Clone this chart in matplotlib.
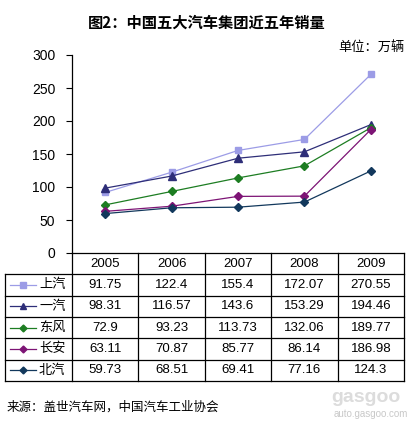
import matplotlib
matplotlib.use("Agg")
import matplotlib.pyplot as plt
from matplotlib import transforms
from matplotlib.lines import Line2D

plt.rcParams['font.family'] = ['Liberation Sans', 'Noto Sans CJK SC', 'DejaVu Sans']

# data (unit: 10k vehicles)
years = ["2005", "2006", "2007", "2008", "2009"]
groups = ["上汽", "一汽", "东风", "长安", "北汽"]
saic = [91.75, 122.4, 155.4, 172.07, 270.55]
faw = [98.31, 116.57, 143.6, 153.29, 194.46]
dongfeng = [72.9, 93.23, 113.73, 132.06, 189.77]
changan = [63.11, 70.87, 85.77, 86.14, 186.98]
baic = [59.73, 68.51, 69.41, 77.16, 124.3]
series = [saic, faw, dongfeng, changan, baic]

colors = ["#9c9ce6", "#2e2e78", "#1d7d22", "#7d1475", "#12385c"]
markers = ["s", "^", "D", "D", "D"]
msizes = [5, 6, 4, 4, 4]

W, H = 415, 422
fig = plt.figure(figsize=(W / 100, H / 100), dpi=100)

# plot area in pixels: x 72..404, y 55(300)..253(0)
left, right, top, bottom = 72, 404, 55, 253
ax = fig.add_axes([left / W, 1 - bottom / H, (right - left) / W, (bottom - top) / H])

xs = list(range(len(years)))
for vals, c, m, ms in zip(series, colors, markers, msizes):
    ax.plot(xs, vals, color=c, marker=m, markersize=ms, linewidth=0.9, clip_on=False)

ax.set_xlim(-0.5, len(years) - 0.5)
ax.set_ylim(0, 300)
ax.set_yticks([0, 50, 100, 150, 200, 250, 300])
ax.set_xticks([])
ax.tick_params(axis='y', direction='out', length=4, width=0.8, labelsize=10, pad=8)
for s in ["top", "right"]:
    ax.spines[s].set_visible(False)
ax.spines["left"].set_linewidth(0.9)
ax.spines["bottom"].set_linewidth(0.9)

# ---- data table under the plot ----
ax_h = bottom - top
ax_w = right - left
row_h = 21.3 / ax_h
n_rows = len(groups) + 1
tab_left = (5 - left) / ax_w
lw = 0.9
blend = transforms.blended_transform_factory(ax.transData, ax.transAxes)

def hline(x0, x1, y):
    ax.add_line(Line2D([x0, x1], [y, y], transform=ax.transAxes, color="black", lw=lw, clip_on=False))

def vline(x, y0, y1, tr=ax.transAxes):
    ax.add_line(Line2D([x, x], [y0, y1], transform=tr, color="black", lw=lw, clip_on=False))

# horizontal lines
for r in range(1, n_rows + 1):
    hline(tab_left, 1, -r * row_h)
# vertical lines
vline(tab_left, -row_h, -n_rows * row_h)
vline(0, 0, -n_rows * row_h)
for b in range(len(years)):
    vline(b + 0.5, 0, -n_rows * row_h, blend)

# header row
for i, y in enumerate(years):
    ax.text(i, -0.5 * row_h, y, transform=blend, ha="center", va="center", fontsize=9.5)

# body rows
for r, (name, vals, c, m) in enumerate(zip(groups, series, colors, markers)):
    yc = -(r + 1.5) * row_h
    x0 = (10 - left) / ax_w
    x1 = (36 - left) / ax_w
    xm = (23 - left) / ax_w
    ax.add_line(Line2D([x0, x1], [yc, yc], transform=ax.transAxes, color=c, lw=0.9, clip_on=False))
    ax.add_line(Line2D([xm], [yc], transform=ax.transAxes, color=c, marker=m,
                       markersize=4 if m != "D" else 3.5, clip_on=False))
    ax.text((39 - left) / ax_w, yc, name, transform=ax.transAxes, ha="left", va="center",
            fontsize=9.5, family=['Noto Sans CJK SC'])
    for i, v in enumerate(vals):
        ax.text(i, yc, f"{v:g}", transform=blend, ha="center", va="center", fontsize=9.5)

# titles and notes
fig.text(207 / W, 1 - 23 / H, "图2：中国五大汽车集团近五年销量", ha="center", va="center",
         fontsize=11, fontweight="bold", family=['Noto Sans CJK SC'])
fig.text(405 / W, 1 - 47 / H, "单位：万辆", ha="right", va="center", fontsize=9.5,
         family=['Noto Sans CJK SC'])
fig.text(7 / W, 1 - 407 / H, "来源：盖世汽车网，中国汽车工业协会", ha="left", va="center",
         fontsize=9, family=['Noto Sans CJK SC'])
fig.text(408 / W, 1 - 414 / H, "auto.gasgoo.com", ha="right", va="center", fontsize=7,
         color="#c8c8c8")
fig.text(400 / W, 1 - 398 / H, "gasgoo", ha="right", va="center", fontsize=14,
         color="#dcdcdc", fontweight="bold")

fig.savefig("out.png", dpi=100)
